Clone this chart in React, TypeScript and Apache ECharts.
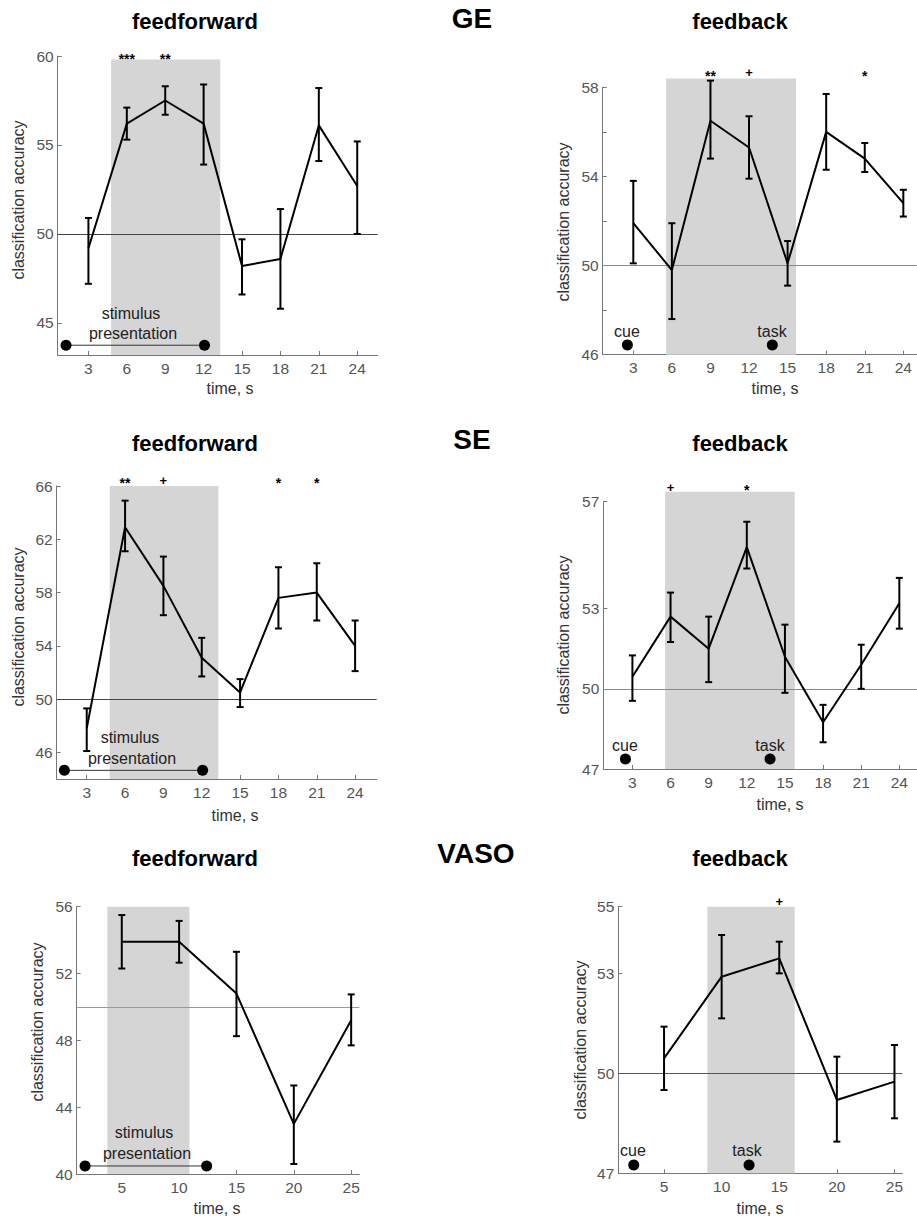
import React, { useEffect, useRef } from "react";
import * as echarts from "echarts";

// ---------- data ----------
const timesTR = [3, 6, 9, 12, 15, 18, 21, 24];
const timesVaso = [5, 10, 15, 20, 25];

const geFfMean = [49.2, 56.2, 57.5, 56.2, 48.2, 48.6, 56.1, 52.7];
const geFfLow = [47.2, 55.3, 56.7, 53.9, 46.6, 45.8, 54.1, 50.0];
const geFfHigh = [50.9, 57.1, 58.3, 58.4, 49.7, 51.4, 58.2, 55.2];

const geFbMean = [51.9, 49.8, 56.5, 55.3, 50.1, 56.0, 54.8, 52.8];
const geFbLow = [50.1, 47.6, 54.8, 53.9, 49.1, 54.3, 54.2, 52.2];
const geFbHigh = [53.8, 51.9, 58.3, 56.7, 51.1, 57.7, 55.5, 53.4];

const seFfMean = [47.8, 62.9, 58.5, 53.1, 50.5, 57.6, 58.0, 54.0];
const seFfLow = [46.1, 61.1, 56.3, 51.7, 49.4, 55.3, 55.9, 52.1];
const seFfHigh = [49.3, 64.9, 60.7, 54.6, 51.5, 59.9, 60.2, 55.9];

const seFbMean = [50.45, 52.7, 51.5, 55.3, 51.2, 48.75, 50.9, 53.2];
const seFbLow = [49.55, 51.75, 50.25, 54.5, 49.85, 48.0, 50.0, 52.25];
const seFbHigh = [51.25, 53.6, 52.7, 56.25, 52.4, 49.4, 51.65, 54.15];

const vasoFfMean = [53.9, 53.9, 50.8, 43.0, 49.2];
const vasoFfLow = [52.3, 52.65, 48.25, 40.6, 47.7];
const vasoFfHigh = [55.5, 55.15, 53.3, 45.3, 50.75];

const vasoFbMean = [50.45, 52.9, 53.45, 49.2, 49.75];
const vasoFbLow = [49.5, 51.65, 53.0, 47.95, 48.65];
const vasoFbHigh = [51.4, 54.15, 53.95, 50.5, 50.85];

// significance markers: [time, label]
const geFfSig: [number, string][] = [[6, "***"], [9, "**"]];
const geFbSig: [number, string][] = [[9, "**"], [12, "+"], [21, "*"]];
const seFfSig: [number, string][] = [[6, "**"], [9, "+"], [18, "*"], [21, "*"]];
const seFbSig: [number, string][] = [[6, "+"], [12, "*"]];
const vasoFfSig: [number, string][] = [];
const vasoFbSig: [number, string][] = [[15, "+"]];

// shaded windows [start, end, top]
const geFfBand = [4.77, 13.3, 59.8];
const geFbBand = [5.55, 15.66, 58.4];
const seFfBand = [4.8, 13.3, 66];
const seFbBand = [5.57, 15.77, 57.37];
const vasoFfBand = [3.74, 10.9, 56];
const vasoFbBand = [8.76, 16.34, 55];

// event markers
const geFfStim = [1.25, 12.07];
const seFfStim = [1.25, 12.07];
const vasoFfStim = [1.8, 12.4];
const geFbCueTask = [2.54, 13.81];
const seFbCueTask = [2.45, 13.83];
const vasoFbCueTask = [2.37, 12.38];

const trXTicks = [3, 6, 9, 12, 15, 18, 21, 24];
const vasoXTicks = [5, 10, 15, 20, 25];

const FONT = "'Liberation Sans', Arial, Helvetica, sans-serif";

type Panel = {
  grid: { left: number; top: number; width: number; height: number };
  xMin: number; xMax: number; xTicks: number[];
  yMin: number; yMax: number; yTicks: number[]; yLabels: number[];
  times: number[]; mean: number[]; low: number[]; high: number[];
  band: number[]; sig: [number, string][]; sigY: number;
  events: number[]; eventY: number; connect: boolean;
  refColor: string;
};

const panels: Panel[] = [
  {
    grid: { left: 57.7, top: 56, width: 320, height: 299 },
    xMin: 0.6, xMax: 25.6, xTicks: trXTicks,
    yMin: 43.2, yMax: 60, yTicks: [45, 50, 55, 60], yLabels: [45, 50, 55, 60],
    times: timesTR, mean: geFfMean, low: geFfLow, high: geFfHigh,
    band: geFfBand, sig: geFfSig, sigY: 60.0,
    events: geFfStim, eventY: 43.75, connect: true, refColor: "#444",
  },
  {
    grid: { left: 602.7, top: 87.3, width: 314, height: 267.4 },
    xMin: 0.62, xMax: 25.04, xTicks: trXTicks,
    yMin: 46, yMax: 58, yTicks: [46, 48, 50, 52, 54, 56, 58], yLabels: [46, 50, 54, 58],
    times: timesTR, mean: geFbMean, low: geFbLow, high: geFbHigh,
    band: geFbBand, sig: geFbSig, sigY: 58.65,
    events: geFbCueTask, eventY: 46.44, connect: false, refColor: "#8a8a8a",
  },
  {
    grid: { left: 56.7, top: 486, width: 320, height: 293 },
    xMin: 0.65, xMax: 25.69, xTicks: trXTicks,
    yMin: 44, yMax: 66, yTicks: [46, 50, 54, 58, 62, 66], yLabels: [46, 50, 54, 58, 62, 66],
    times: timesTR, mean: seFfMean, low: seFfLow, high: seFfHigh,
    band: seFfBand, sig: seFfSig, sigY: 66.45,
    events: seFfStim, eventY: 44.65, connect: true, refColor: "#444",
  },
  {
    grid: { left: 603.3, top: 501.7, width: 313.7, height: 267.3 },
    xMin: 0.71, xMax: 25.39, xTicks: trXTicks,
    yMin: 47, yMax: 57, yTicks: [47, 50, 53, 57], yLabels: [47, 50, 53, 57],
    times: timesTR, mean: seFbMean, low: seFbLow, high: seFbHigh,
    band: seFbBand, sig: seFbSig, sigY: 57.54,
    events: seFbCueTask, eventY: 47.37, connect: false, refColor: "#8a8a8a",
  },
  {
    grid: { left: 76.7, top: 906.7, width: 282.6, height: 267.3 },
    xMin: 1.07, xMax: 25.71, xTicks: vasoXTicks,
    yMin: 40, yMax: 56, yTicks: [40, 44, 48, 52, 56], yLabels: [40, 44, 48, 52, 56],
    times: timesVaso, mean: vasoFfMean, low: vasoFfLow, high: vasoFfHigh,
    band: vasoFfBand, sig: vasoFfSig, sigY: 56.4,
    events: vasoFfStim, eventY: 40.48, connect: true, refColor: "#999",
  },
  {
    grid: { left: 618.3, top: 906.7, width: 284, height: 266.6 },
    xMin: 1.03, xMax: 25.68, xTicks: vasoXTicks,
    yMin: 47, yMax: 55, yTicks: [47, 50, 53, 55], yLabels: [47, 50, 53, 55],
    times: timesVaso, mean: vasoFbMean, low: vasoFbLow, high: vasoFbHigh,
    band: vasoFbBand, sig: vasoFbSig, sigY: 55.15,
    events: vasoFbCueTask, eventY: 47.25, connect: false, refColor: "#555",
  },
];

// text decorations (pixel positions, centers)
const panelTitles = [
  { text: "feedforward", x: 195, y: 21 },
  { text: "feedback", x: 740, y: 21 },
  { text: "feedforward", x: 195, y: 443 },
  { text: "feedback", x: 740, y: 443 },
  { text: "feedforward", x: 195, y: 858 },
  { text: "feedback", x: 740, y: 858 },
];
const rowTitles = [
  { text: "GE", x: 472, y: 18 },
  { text: "SE", x: 472, y: 439 },
  { text: "VASO", x: 476, y: 853 },
];
const yNames = [
  { x: 18, y: 200 }, { x: 563, y: 222 },
  { x: 18, y: 627 }, { x: 563, y: 635 },
  { x: 37, y: 1022 }, { x: 580, y: 1040 },
];
const xNames = [
  { x: 230, y: 388 }, { x: 775, y: 388 },
  { x: 235, y: 815 }, { x: 780, y: 804 },
  { x: 217, y: 1208 }, { x: 760, y: 1208 },
];
const eventTexts = [
  { text: "stimulus", x: 131, y: 313 }, { text: "presentation", x: 133, y: 333 },
  { text: "cue", x: 627, y: 331 }, { text: "task", x: 772, y: 331 },
  { text: "stimulus", x: 130, y: 737 }, { text: "presentation", x: 132, y: 758 },
  { text: "cue", x: 625, y: 745 }, { text: "task", x: 770, y: 745 },
  { text: "stimulus", x: 144, y: 1132 }, { text: "presentation", x: 147, y: 1153 },
  { text: "cue", x: 633, y: 1150 }, { text: "task", x: 747, y: 1150 },
];

function buildOption() {
  const grid: any[] = [];
  const xAxis: any[] = [];
  const yAxis: any[] = [];
  const series: any[] = [];

  panels.forEach((p, i) => {
    grid.push({ ...p.grid, containLabel: false });
    xAxis.push({
      type: "value", gridIndex: i, min: p.xMin, max: p.xMax,
      axisLine: { show: true, lineStyle: { color: "#777", width: 1 } },
      axisTick: { show: true, inside: true, length: 4, customValues: p.xTicks, lineStyle: { color: "#777" } },
      axisLabel: { customValues: p.xTicks, color: "#555", fontSize: 15.5, fontFamily: FONT, margin: 5 },
      splitLine: { show: false },
    });
    yAxis.push({
      type: "value", gridIndex: i, min: p.yMin, max: p.yMax,
      axisLine: { show: true, lineStyle: { color: "#777", width: 1 } },
      axisTick: { show: true, inside: true, length: 4, customValues: p.yTicks, lineStyle: { color: "#777" } },
      axisLabel: { customValues: p.yLabels, color: "#555", fontSize: 15.5, fontFamily: FONT, margin: 4 },
      splitLine: { show: false },
    });

    // shaded window
    series.push({
      type: "custom", xAxisIndex: i, yAxisIndex: i, z: 1, silent: true,
      clip: false,
      data: [[p.band[0], p.band[1], p.band[2]]],
      renderItem: (params: any, api: any) => {
        const a = api.coord([api.value(0), api.value(2)]);
        const b = api.coord([api.value(1), p.yMin]);
        return {
          type: "rect",
          shape: { x: a[0], y: a[1], width: b[0] - a[0], height: b[1] - a[1] },
          style: { fill: "#d5d5d5" },
        };
      },
    });

    // mean line + chance level
    series.push({
      type: "line", xAxisIndex: i, yAxisIndex: i, z: 4, silent: true,
      data: p.times.map((t, k) => [t, p.mean[k]]),
      symbol: "none", lineStyle: { color: "#000", width: 2 },
      markLine: {
        silent: true, symbol: "none", label: { show: false },
        lineStyle: { color: p.refColor, width: 1, type: "solid" },
        data: [{ yAxis: 50 }],
        z: 2,
      },
    });

    // error bars
    series.push({
      type: "custom", xAxisIndex: i, yAxisIndex: i, z: 5, silent: true,
      data: p.times.map((t, k) => [t, p.low[k], p.high[k]]),
      encode: { x: 0, y: [1, 2] },
      renderItem: (params: any, api: any) => {
        const top = api.coord([api.value(0), api.value(2)]);
        const bot = api.coord([api.value(0), api.value(1)]);
        const w = 3.5;
        const st = { stroke: "#000", lineWidth: 2 };
        return {
          type: "group",
          children: [
            { type: "line", shape: { x1: top[0], y1: top[1], x2: bot[0], y2: bot[1] }, style: st },
            { type: "line", shape: { x1: top[0] - w, y1: top[1], x2: top[0] + w, y2: top[1] }, style: st },
            { type: "line", shape: { x1: bot[0] - w, y1: bot[1], x2: bot[0] + w, y2: bot[1] }, style: st },
          ],
        };
      },
    });

    // significance markers
    if (p.sig.length) {
      series.push({
        type: "custom", xAxisIndex: i, yAxisIndex: i, z: 6, silent: true, clip: false,
        data: p.sig.map((s) => [s[0], p.sigY]),
        renderItem: (params: any, api: any) => {
          const label = p.sig[params.dataIndex][1];
          const pt = api.coord([api.value(0), api.value(1)]);
          const star = label.indexOf("*") >= 0;
          return {
            type: "text",
            x: pt[0], y: pt[1] + (star ? 3 : 0),
            style: {
              text: label, fill: "#000", font: `bold ${star ? 14 : 13}px ${FONT}`,
              textAlign: "center", textVerticalAlign: "middle",
            },
          };
        },
      });
    }

    // event markers
    series.push({
      type: "line", xAxisIndex: i, yAxisIndex: i, z: 7, silent: true,
      data: p.events.map((x) => [x, p.eventY]),
      symbol: "circle", symbolSize: 11,
      itemStyle: { color: "#000" },
      lineStyle: { color: "#333", width: p.connect ? 1 : 0, opacity: p.connect ? 1 : 0 },
    });
  });

  const graphic: any[] = [];
  panelTitles.forEach((t) =>
    graphic.push({
      type: "text", x: t.x, y: t.y,
      style: { text: t.text, font: `bold 22px ${FONT}`, fill: "#000", textAlign: "center", textVerticalAlign: "middle" },
    })
  );
  rowTitles.forEach((t) =>
    graphic.push({
      type: "text", x: t.x, y: t.y,
      style: { text: t.text, font: `bold 28px ${FONT}`, fill: "#000", textAlign: "center", textVerticalAlign: "middle" },
    })
  );
  yNames.forEach((t) =>
    graphic.push({
      type: "text", x: t.x, y: t.y, rotation: Math.PI / 2,
      style: { text: "classification accuracy", font: `16px ${FONT}`, fill: "#333", textAlign: "center", textVerticalAlign: "middle" },
    })
  );
  xNames.forEach((t) =>
    graphic.push({
      type: "text", x: t.x, y: t.y,
      style: { text: "time, s", font: `16px ${FONT}`, fill: "#333", textAlign: "center", textVerticalAlign: "middle" },
    })
  );
  eventTexts.forEach((t) =>
    graphic.push({
      type: "text", x: t.x, y: t.y, z: 10,
      style: { text: t.text, font: `16px ${FONT}`, fill: "#222", textAlign: "center", textVerticalAlign: "middle" },
    })
  );

  return {
    animation: false,
    backgroundColor: "#fff",
    grid, xAxis, yAxis, series, graphic,
  };
}

export default function App() {
  const ref = useRef<HTMLDivElement | null>(null);
  useEffect(() => {
    if (!ref.current) return;
    const chart = echarts.init(ref.current, undefined, { renderer: "svg" });
    chart.setOption(buildOption());
    return () => chart.dispose();
  }, []);
  return (
    <div
      ref={ref}
      style={{ position: "absolute", left: 0, top: 0, width: 917, height: 1219 }}
    />
  );
}
